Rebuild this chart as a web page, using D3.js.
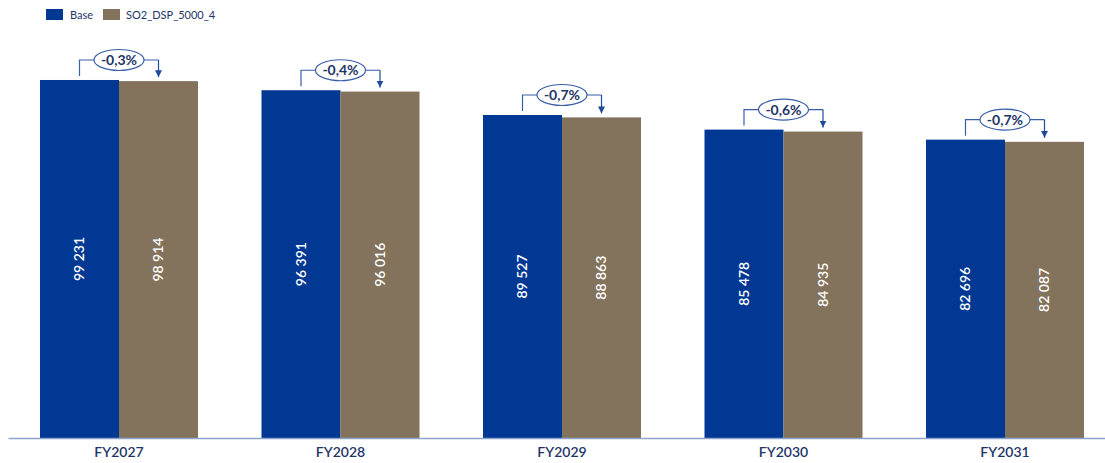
<!DOCTYPE html>
<html>
<head>
<meta charset="utf-8">
<script src="https://cdn.jsdelivr.net/npm/d3@7"></script>
<style>
  body { margin: 0; background: #fff; }
  svg { display: block; font-family: Lato, 'Open Sans', sans-serif; }
  .x-axis { font-family: Lato, 'Open Sans', sans-serif; }
  .x-axis .domain { stroke: #8ea3cb; stroke-width: 1.5; }
  .x-axis text { fill: #1e3567; font-size: 14px; font-weight: 600; }
</style>
</head>
<body>
<div id="chart"></div>
<script>
// data
let years = ['FY2027', 'FY2028', 'FY2029', 'FY2030', 'FY2031'];
let seriesNames = ['Base', 'SO2_DSP_5000_4'];
let baseValues = [99231, 96391, 89527, 85478, 82696];
let so2Values = [98914, 96016, 88863, 84935, 82087];
let changeLabels = ['-0,3%', '-0,4%', '-0,7%', '-0,6%', '-0,7%'];
let colors = ['#003893', '#83735d'];

let width = 1105,
  height = 463,
  baseline = 438;

let rows = years.map((y, i) => ({
  year: y,
  values: [baseValues[i], so2Values[i]],
  change: changeLabels[i],
}));

let fmt = (v) => d3.format(',')(v).replace(/,/g, ' ');

const svg = d3
  .select('#chart')
  .append('svg')
  .attr('width', width)
  .attr('height', height);

// scales
let x = d3
  .scaleBand()
  .domain(years)
  .range([8, 1116])
  .paddingInner(0.2867)
  .paddingOuter(0.1445);

let xs = d3.scaleBand().domain(seriesNames).range([0, x.bandwidth()]);

let y = d3.scaleLinear().domain([0, 121400]).range([baseline, 0]);

// bars
let groups = svg
  .append('g')
  .attr('class', 'bars')
  .selectAll('g')
  .data(rows)
  .join('g')
  .attr('transform', (d) => `translate(${x(d.year)},0)`);

groups
  .selectAll('rect')
  .data((d) => d.values.map((v, j) => ({ key: seriesNames[j], value: v, j: j })))
  .join('rect')
  .attr('x', (d) => xs(d.key))
  .attr('y', (d) => y(d.value))
  .attr('width', xs.bandwidth())
  .attr('height', (d) => y(0) - y(d.value))
  .attr('fill', (d) => colors[d.j]);

// value labels, rotated
groups
  .selectAll('text.val')
  .data((d) => d.values.map((v, j) => ({ key: seriesNames[j], value: v })))
  .join('text')
  .attr('class', 'val')
  .attr('transform', (d) => {
    let cx = xs(d.key) + xs.bandwidth() / 2;
    let cy = (y(d.value) + y(0)) / 2;
    return `translate(${cx},${cy}) rotate(-90)`;
  })
  .attr('text-anchor', 'middle')
  .attr('dy', '0.35em')
  .attr('fill', '#fff')
  .attr('font-size', 14)
  .attr('font-weight', 600)
  .text((d) => fmt(d.value));

// change annotations
svg
  .append('defs')
  .append('marker')
  .attr('id', 'arrow')
  .attr('viewBox', '0 0 10 10')
  .attr('refX', 10)
  .attr('refY', 5)
  .attr('markerWidth', 7)
  .attr('markerHeight', 8)
  .attr('markerUnits', 'userSpaceOnUse')
  .attr('orient', 'auto')
  .append('path')
  .attr('d', 'M0,0L10,5L0,10Z')
  .attr('fill', '#1f4a9c');

let mid = x.bandwidth() / 2;
let c1 = xs('Base') + xs.bandwidth() / 2;
let c2 = xs(seriesNames[1]) + xs.bandwidth() / 2;

let notes = groups.append('g').attr('class', 'note');

notes
  .append('path')
  .attr('fill', 'none')
  .attr('stroke', '#3a5ea8')
  .attr('stroke-width', 1.2)
  .attr('d', (d) => {
    let yTop = y(d.values[0]) - 20;
    return `M${c1},${y(d.values[0]) - 4}V${yTop}H${c2}`;
  });

notes
  .append('line')
  .attr('stroke', '#1f4a9c')
  .attr('stroke-width', 1.2)
  .attr('marker-end', 'url(#arrow)')
  .attr('x1', c2)
  .attr('x2', c2)
  .attr('y1', (d) => y(d.values[0]) - 20)
  .attr('y2', (d) => y(d.values[1]) - 4);

notes
  .append('ellipse')
  .attr('cx', mid)
  .attr('cy', (d) => y(d.values[0]) - 20)
  .attr('rx', 25)
  .attr('ry', 10.5)
  .attr('fill', '#fff')
  .attr('stroke', '#3a5ea8')
  .attr('stroke-width', 1.2);

notes
  .append('text')
  .attr('x', mid)
  .attr('y', (d) => y(d.values[0]) - 20)
  .attr('dy', '0.35em')
  .attr('text-anchor', 'middle')
  .attr('fill', '#1e3567')
  .attr('font-size', 14)
  .attr('font-weight', 700)
  .text((d) => d.change);

// x axis
let xAxis = svg
  .append('g')
  .attr('class', 'x-axis')
  .attr('transform', `translate(0,${baseline})`)
  .call(d3.axisBottom(x).tickSize(0).tickSizeOuter(0).tickPadding(9));
xAxis.attr('font-family', null);

// legend
let legend = svg
  .append('g')
  .attr('class', 'legend')
  .selectAll('g')
  .data(seriesNames)
  .join('g')
  .attr('transform', (d, i) => `translate(${[46, 103][i]},9)`);

legend
  .append('rect')
  .attr('width', 17)
  .attr('height', 11)
  .attr('fill', (d, i) => colors[i]);

legend
  .append('text')
  .attr('x', (d, i) => [24, 23][i])
  .attr('y', 6)
  .attr('dy', '0.35em')
  .attr('fill', '#1e3567')
  .attr('font-size', 11)
  .text((d) => d);
</script>
</body>
</html>
